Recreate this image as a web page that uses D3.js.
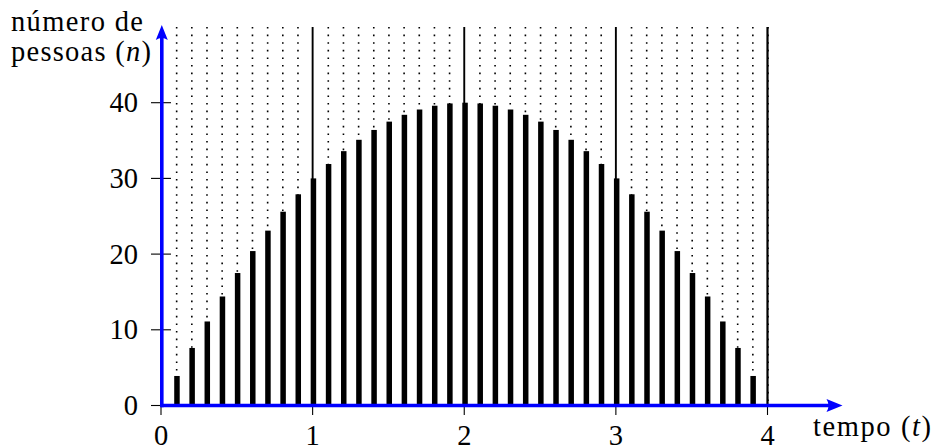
<!DOCTYPE html>
<html>
<head>
<meta charset="utf-8">
<script src="https://cdn.jsdelivr.net/npm/d3@7"></script>
<style>
  html, body { margin: 0; padding: 0; background: #fff; }
  svg text { font-family: "Liberation Serif", "DejaVu Serif", serif; fill: #000; }
</style>
</head>
<body>
<svg id="chart"></svg>
<script>
// bar positions (tempo t) and heights (número de pessoas n)
const TIMES = [0.1, 0.2, 0.3, 0.4, 0.5, 0.6, 0.7, 0.8, 0.9, 1.0,
  1.1, 1.2, 1.3, 1.4, 1.5, 1.6, 1.7, 1.8, 1.9, 2.0,
  2.1, 2.2, 2.3, 2.4, 2.5, 2.6, 2.7, 2.8, 2.9, 3.0,
  3.1, 3.2, 3.3, 3.4, 3.5, 3.6, 3.7, 3.8, 3.9];
const PEOPLE = [3.9, 7.6, 11.1, 14.4, 17.5, 20.4, 23.1, 25.6, 27.9, 30.0,
  31.9, 33.6, 35.1, 36.4, 37.5, 38.4, 39.1, 39.6, 39.9, 40.0,
  39.9, 39.6, 39.1, 38.4, 37.5, 36.4, 35.1, 33.6, 31.9, 30.0,
  27.9, 25.6, 23.1, 20.4, 17.5, 14.4, 11.1, 7.6, 3.9];
const GRID_T = [0.1, 0.2, 0.3, 0.4, 0.5, 0.6, 0.7, 0.8, 0.9,
  1.1, 1.2, 1.3, 1.4, 1.5, 1.6, 1.7, 1.8, 1.9,
  2.1, 2.2, 2.3, 2.4, 2.5, 2.6, 2.7, 2.8, 2.9,
  3.1, 3.2, 3.3, 3.4, 3.5, 3.6, 3.7, 3.8, 3.9, 4.0];
const SOLID_T = [1, 2, 3, 4];
const X_TICKS = [0, 1, 2, 3, 4];
const Y_TICKS = [0, 10, 20, 30, 40];

const WIDTH = 935;
const HEIGHT = 448;
const BLUE = '#0000ff';

const svg = d3.select('#chart').attr('width', WIDTH).attr('height', HEIGHT);

const x = d3.scaleLinear([0, 4], [161, 767.5]);
const y = d3.scaleLinear([0, 50], [405.5, 27]);

// dotted grid
svg.append('g').selectAll('line').data(GRID_T).join('line')
  .attr('x1', (d) => x(d) + 0.5).attr('x2', (d) => x(d) + 0.5)
  .attr('y1', y(50)).attr('y2', y(0))
  .attr('stroke', '#000').attr('stroke-width', 1.6)
  .attr('stroke-dasharray', '1.6 6');

// solid lines at whole numbers
svg.append('g').selectAll('line').data(SOLID_T).join('line')
  .attr('x1', (d) => x(d)).attr('x2', (d) => x(d))
  .attr('y1', y(50)).attr('y2', y(0))
  .attr('stroke', '#000').attr('stroke-width', (d) => (d === 4 ? 2.2 : 1.9));

// bars
const BAR_W = 5.5;
svg.append('g').selectAll('rect').data(d3.zip(TIMES, PEOPLE)).join('rect')
  .attr('x', (d) => x(d[0]) - BAR_W / 2 + 0.8)
  .attr('width', BAR_W)
  .attr('y', (d) => y(d[1]))
  .attr('height', (d) => y(0) - y(d[1]))
  .attr('fill', '#000');

// ticks
svg.append('g').selectAll('line').data(X_TICKS).join('line')
  .attr('x1', (d) => x(d)).attr('x2', (d) => x(d))
  .attr('y1', y(0) - 9).attr('y2', y(0) + 9.5)
  .attr('stroke', '#000').attr('stroke-width', 1.1);
svg.append('g').selectAll('line').data(Y_TICKS).join('line')
  .attr('x1', x(0) - 10).attr('x2', x(0) + 10)
  .attr('y1', (d) => y(d)).attr('y2', (d) => y(d))
  .attr('stroke', '#000').attr('stroke-width', 1.1);

// blue axes with arrow heads
const axisG = svg.append('g');
const xEnd = 842.5;
const yEnd = 25;
axisG.append('line')
  .attr('x1', x(0)).attr('x2', xEnd - 8).attr('y1', y(0)).attr('y2', y(0))
  .attr('stroke', BLUE).attr('stroke-width', 3.6);
axisG.append('line')
  .attr('x1', x(0) + 0.8).attr('x2', x(0) + 0.8).attr('y1', y(0) + 1.8).attr('y2', yEnd + 8)
  .attr('stroke', BLUE).attr('stroke-width', 3.6);
axisG.append('path')
  .attr('d', `M${xEnd},${y(0)} L${xEnd - 16},${y(0) - 6.5} Q${xEnd - 12},${y(0)} ${xEnd - 16},${y(0) + 6.5} Z`)
  .attr('fill', BLUE);
const ax = x(0) + 0.8;
axisG.append('path')
  .attr('d', `M${ax},${yEnd} L${ax - 6},${yEnd + 15} Q${ax},${yEnd + 11} ${ax + 6},${yEnd + 15} Z`)
  .attr('fill', BLUE);

// tick labels
const FS = 28.5;
svg.append('g').selectAll('text').data(X_TICKS).join('text')
  .attr('x', (d) => x(d)).attr('y', 445)
  .attr('text-anchor', 'middle').attr('font-size', FS)
  .text((d) => d);
svg.append('g').selectAll('text').data(Y_TICKS).join('text')
  .attr('x', 138).attr('y', (d) => y(d) + 9.5)
  .attr('text-anchor', 'end').attr('font-size', FS)
  .text((d) => d);

// axis titles
const xTitle = svg.append('text').attr('x', 813).attr('y', 436).attr('font-size', FS)
  .attr('textLength', 118).attr('lengthAdjust', 'spacing');
xTitle.append('tspan').text('tempo (');
xTitle.append('tspan').attr('font-style', 'italic').text('t');
xTitle.append('tspan').text(')');

svg.append('text').attr('x', 11).attr('y', 31).attr('font-size', FS)
  .attr('textLength', 132).attr('lengthAdjust', 'spacing').text('número de');
const yTitle = svg.append('text').attr('x', 11).attr('y', 61).attr('font-size', FS)
  .attr('textLength', 140).attr('lengthAdjust', 'spacing');
yTitle.append('tspan').text('pessoas (');
yTitle.append('tspan').attr('font-style', 'italic').text('n');
yTitle.append('tspan').text(')');
</script>
</body>
</html>
